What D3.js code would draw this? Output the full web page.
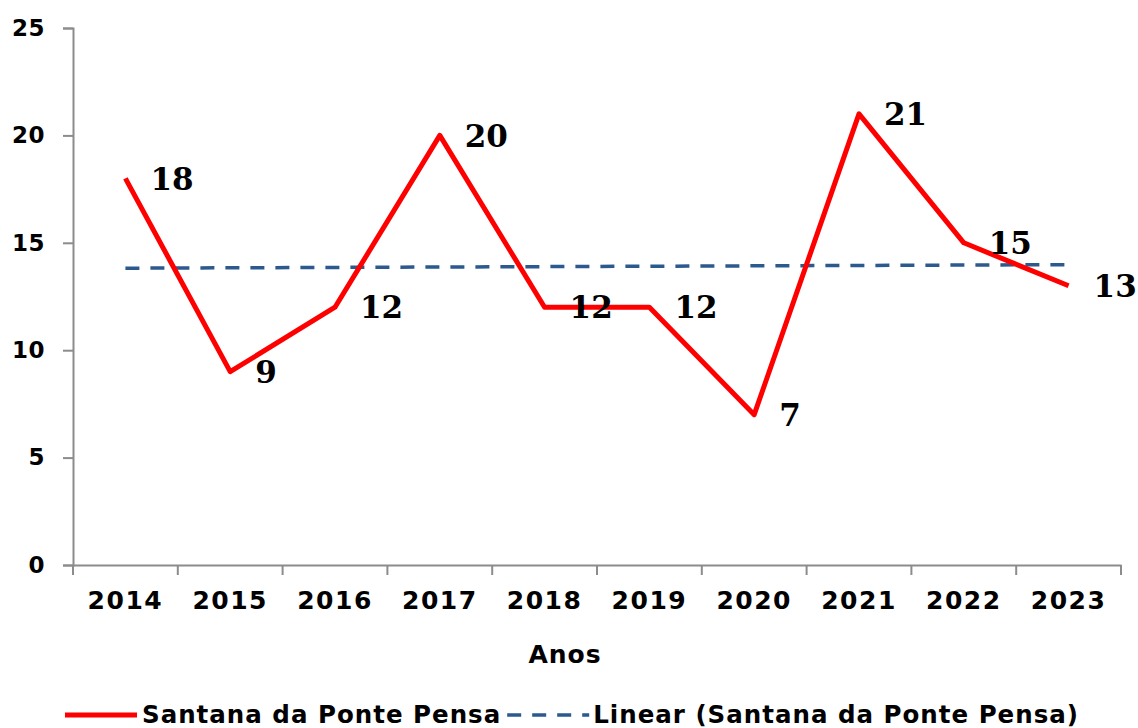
<!DOCTYPE html>
<html><head><meta charset="utf-8">
<script src="https://cdn.jsdelivr.net/npm/d3@7"></script>
<style>body{margin:0;background:#fff}svg{display:block}</style>
</head><body>
<svg id="c" width="1138" height="728"></svg>
<script>
const years = ["2014","2015","2016","2017","2018","2019","2020","2021","2022","2023"];
const values = [18, 9, 12, 20, 12, 12, 7, 21, 15, 13];
const yTicks = [0, 5, 10, 15, 20, 25];
const seriesName = "Santana da Ponte Pensa";
const trendName = "Linear (Santana da Ponte Pensa)";
const xTitle = "Anos";

const W = 1138, H = 728;
const m = {left: 73, right: 1121, top: 28, bottom: 565};
const svg = d3.select("#c");

const x = d3.scaleBand().domain(years).range([m.left, m.right]);
const y = d3.scaleLinear().domain([0, 25]).range([m.bottom, m.top]);
const cx = d => x(d) + x.bandwidth() / 2;

const axisColor = "#8c8c8c";
const sans = "'DejaVu Sans', Verdana, sans-serif";

// y axis
const ya = svg.append("g").attr("transform", `translate(${m.left},0)`)
  .call(d3.axisLeft(y).tickValues(yTicks).tickSize(10).tickPadding(18).tickFormat(d3.format("d")));
ya.select(".domain").attr("stroke", axisColor).attr("stroke-width", 2);
ya.selectAll(".tick line").attr("stroke", axisColor).attr("stroke-width", 2);
ya.selectAll(".tick text").attr("font-family", sans).attr("font-weight", "bold")
  .attr("font-size", 23).attr("letter-spacing", 0.5).attr("fill", "#000");

// x axis with ticks between categories
const xa = svg.append("g").attr("transform", `translate(0,${m.bottom})`)
  .call(d3.axisBottom(x).tickSize(0).tickPadding(26));
xa.select(".domain").attr("stroke", axisColor).attr("stroke-width", 2);
xa.selectAll(".tick text").attr("font-family", sans).attr("font-weight", "bold")
  .attr("font-size", 25).attr("letter-spacing", 1.5).attr("fill", "#000");
const bounds = years.map(d => x(d)).concat([x(years[years.length - 1]) + x.bandwidth()]);
svg.append("g").selectAll("line").data(bounds).join("line")
  .attr("x1", d => d).attr("x2", d => d)
  .attr("y1", m.bottom).attr("y2", m.bottom + 10)
  .attr("stroke", axisColor).attr("stroke-width", 2);

// x title
svg.append("text").attr("x", 565).attr("y", 663)
  .attr("text-anchor", "middle").attr("font-family", sans).attr("font-weight", "bold")
  .attr("font-size", 25).attr("letter-spacing", 1).text(xTitle);

// linear trend (least squares over the data)
const n = values.length;
const xs = d3.range(1, n + 1);
const mx = d3.mean(xs), my = d3.mean(values);
const slope = d3.sum(xs, (xi, i) => (xi - mx) * (values[i] - my)) / d3.sum(xs, xi => (xi - mx) ** 2);
const icpt = my - slope * mx;
const trend = [{yr: years[0], v: icpt + slope * 1}, {yr: years[n - 1], v: icpt + slope * n}];
const trendColor = "#2c5a8e";
svg.append("path").datum(trend)
  .attr("d", d3.line().x(d => cx(d.yr)).y(d => y(d.v)))
  .attr("fill", "none").attr("stroke", trendColor).attr("stroke-width", 3.5)
  .attr("stroke-dasharray", "14,11");

// main line
const data = years.map((yr, i) => ({yr, v: values[i]}));
svg.append("path").datum(data)
  .attr("d", d3.line().x(d => cx(d.yr)).y(d => y(d.v)))
  .attr("fill", "none").attr("stroke", "#ff0000").attr("stroke-width", 5)
  .attr("stroke-linejoin", "round");

// data labels
svg.append("g").selectAll("text").data(data).join("text")
  .attr("x", d => cx(d.yr) + 25).attr("y", d => y(d.v))
  .attr("dy", "0.36em")
  .attr("font-family", "'DejaVu Serif', serif").attr("font-weight", "bold")
  .attr("font-size", 31).attr("fill", "#000").text(d => d.v);

// legend
const ly = 714;
const lg = svg.append("g");
lg.append("line").attr("x1", 65).attr("x2", 137).attr("y1", ly + 1).attr("y2", ly + 1)
  .attr("stroke", "#ff0000").attr("stroke-width", 5);
const t1 = lg.append("text").attr("x", 142).attr("y", ly).attr("dy", "0.36em")
  .attr("font-family", sans).attr("font-weight", "bold").attr("font-size", 24.5)
  .attr("letter-spacing", 1).text(seriesName);
const e1 = t1.node().getComputedTextLength() + 142;
lg.append("line").attr("x1", e1 + 6).attr("x2", e1 + 88).attr("y1", ly + 1).attr("y2", ly + 1)
  .attr("stroke", trendColor).attr("stroke-width", 3.5).attr("stroke-dasharray", "14,11");
lg.append("text").attr("x", e1 + 92).attr("y", ly).attr("dy", "0.36em")
  .attr("font-family", sans).attr("font-weight", "bold").attr("font-size", 24.5)
  .attr("letter-spacing", 1).text(trendName);
</script>
</body></html>
